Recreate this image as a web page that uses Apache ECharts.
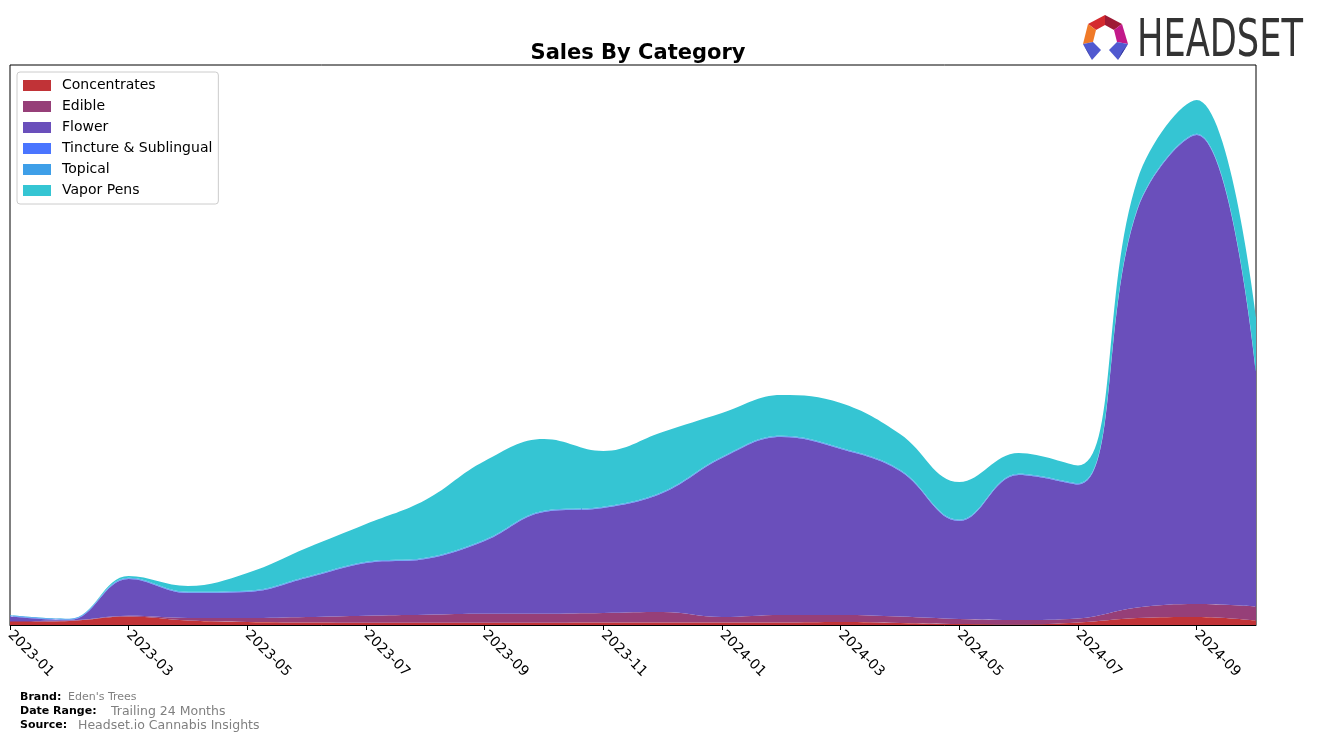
<!DOCTYPE html>
<html>
<head>
<meta charset="utf-8">
<script src="https://cdn.jsdelivr.net/npm/echarts@6/dist/echarts.min.js"></script>
<style>
html,body{margin:0;padding:0;background:#fff;}
#chart{width:1320px;height:742px;}
</style>
</head>
<body>
<div id="chart"></div>
<script>
const months = ['2023-01','2023-02','2023-03','2023-04','2023-05','2023-06','2023-07','2023-08','2023-09','2023-10','2023-11','2023-12',
                '2024-01','2024-02','2024-03','2024-04','2024-05','2024-06','2024-07','2024-08','2024-09','2024-10'];
const concentrates = [3, 4, 8.5, 4.5, 3, 2.5, 2.3, 2.3, 2.3, 2.3, 2.5, 2.5, 2.5, 2.5, 3, 2, 1, 0.5, 2.5, 7, 8, 4.5];
const edible       = [1, 0.5, 0.7, 2.5, 4, 5.5, 7, 8, 9, 9, 9.5, 10.5, 5.5, 7.5, 7, 6.5, 5, 4.5, 4, 10.5, 13, 14];
const flower       = [4.5, 0.5, 36.8, 25, 26, 39, 52.7, 55.7, 72.7, 101.7, 105, 119, 159, 178, 166, 145.5, 98, 145, 134, 397.5, 469, 235.5];
const tincture     = [0.6, 0.6, 0.6, 0.6, 0.6, 0.6, 0.6, 0.6, 0.6, 0.6, 0.6, 0.6, 0.6, 0.6, 0.6, 0.6, 0.6, 0.6, 0.6, 0.6, 0.6, 0.6];
const topical      = [0.6, 0.6, 0.6, 0.6, 0.6, 0.6, 0.6, 0.6, 0.6, 0.6, 0.6, 0.6, 0.6, 0.6, 0.6, 0.6, 0.6, 0.6, 0.6, 0.6, 0.6, 0.6];
const vaporPens    = [0.3, 0, 1.8, 5.8, 17.8, 28.8, 37.8, 57.8, 78.8, 71.8, 55.8, 59.8, 43.8, 40.8, 44.8, 35.8, 37.8, 20.8, 17.8, 28.8, 33.8, 52.8];

const seriesDefs = [
  ['Concentrates', concentrates, '#c13337'],
  ['Edible', edible, '#963f78'],
  ['Flower', flower, '#6a4fbb'],
  ['Tincture & Sublingual', tincture, '#4a75ff'],
  ['Topical', topical, '#3e9fe8'],
  ['Vapor Pens', vaporPens, '#35c5d3']
];

const chart = echarts.init(document.getElementById('chart'), null, {renderer:'canvas'});
const font = 'DejaVu Sans';

chart.setOption({
  animation:false,
  backgroundColor:'#fff',
  title:{
    text:'Sales By Category', left:633, top:38, textAlign:'center',
    textStyle:{fontFamily:font, fontSize:21, fontWeight:'bold', color:'#000'}
  },
  legend:{
    orient:'vertical', left:17, top:72, padding:[6,6,6,6],
    itemWidth:28, itemHeight:11, itemGap:6, icon:'rect',
    backgroundColor:'#fff', borderColor:'#cccccc', borderWidth:1, borderRadius:3,
    textStyle:{fontFamily:font, fontSize:14, color:'#000', lineHeight:15, padding:[0,0,0,6]},
    data: seriesDefs.map(s=>s[0])
  },
  grid:{left:10, right:64, top:65, bottom:117, show:true, borderColor:'#000', borderWidth:1, backgroundColor:'transparent'},
  xAxis:{
    type:'category', data:months, boundaryGap:false,
    axisLine:{show:true, lineStyle:{color:'#000', width:1}},
    axisTick:{show:true, interval:1, length:5, lineStyle:{color:'#000'}},
    axisLabel:{interval:1, rotate:-45, margin:8, fontFamily:font, fontSize:14, color:'#000'},
    splitLine:{show:false}
  },
  yAxis:{type:'value', min:0, max:560, show:false, splitLine:{show:false}},
  series: seriesDefs.map(s=>({
    name:s[0], type:'line', stack:'total', data:s[1], smooth:0.4,
    symbol:'none', lineStyle:{width:0, color:s[2]}, itemStyle:{color:s[2]},
    areaStyle:{color:s[2], opacity:1}
  })),
  graphic:[
    {type:'polygon', shape:{points:[[1088,24],[1105,15],[1105,25],[1096,30]]}, style:{fill:'#d42a2f'}},
    {type:'polygon', shape:{points:[[1105,15],[1122,24],[1114,30],[1105,25]]}, style:{fill:'#9e1a35'}},
    {type:'polygon', shape:{points:[[1088,24],[1096,30],[1093,42],[1083,44]]}, style:{fill:'#f07a28'}},
    {type:'polygon', shape:{points:[[1122,24],[1128,44],[1117,42],[1114,30]]}, style:{fill:'#c2198a'}},
    {type:'polygon', shape:{points:[[1083,44],[1093,42],[1101,50],[1092,60]]}, style:{fill:'#5059d0'}},
    {type:'polygon', shape:{points:[[1083,44],[1092,60],[1088,52]]}, style:{fill:'#2a2d8a'}},
    {type:'polygon', shape:{points:[[1128,44],[1117,42],[1109,50],[1118,60]]}, style:{fill:'#5059d0'}},
    {type:'polygon', shape:{points:[[1128,44],[1118,60],[1122,52]]}, style:{fill:'#2a2d8a'}},
    {type:'text', x:1137, y:17, scaleX:0.69, style:{text:'HEADSET', fontFamily:font, fontSize:51, fill:'#333333', textVerticalAlign:'top'}},
    {type:'text', x:20, y:692, style:{text:'Brand:', fontFamily:font, fontSize:11, fontWeight:'bold', fill:'#000'}},
    {type:'text', x:68, y:692, style:{text:"Eden's Trees", fontFamily:font, fontSize:11, fill:'#808080'}},
    {type:'text', x:20, y:706, style:{text:'Date Range:', fontFamily:font, fontSize:11, fontWeight:'bold', fill:'#000'}},
    {type:'text', x:111, y:705, style:{text:'Trailing 24 Months', fontFamily:font, fontSize:12.5, fill:'#808080'}},
    {type:'text', x:20, y:720, style:{text:'Source:', fontFamily:font, fontSize:11, fontWeight:'bold', fill:'#000'}},
    {type:'text', x:78, y:719, style:{text:'Headset.io Cannabis Insights', fontFamily:font, fontSize:12.5, fill:'#808080'}}
  ]
});
</script>
</body>
</html>
